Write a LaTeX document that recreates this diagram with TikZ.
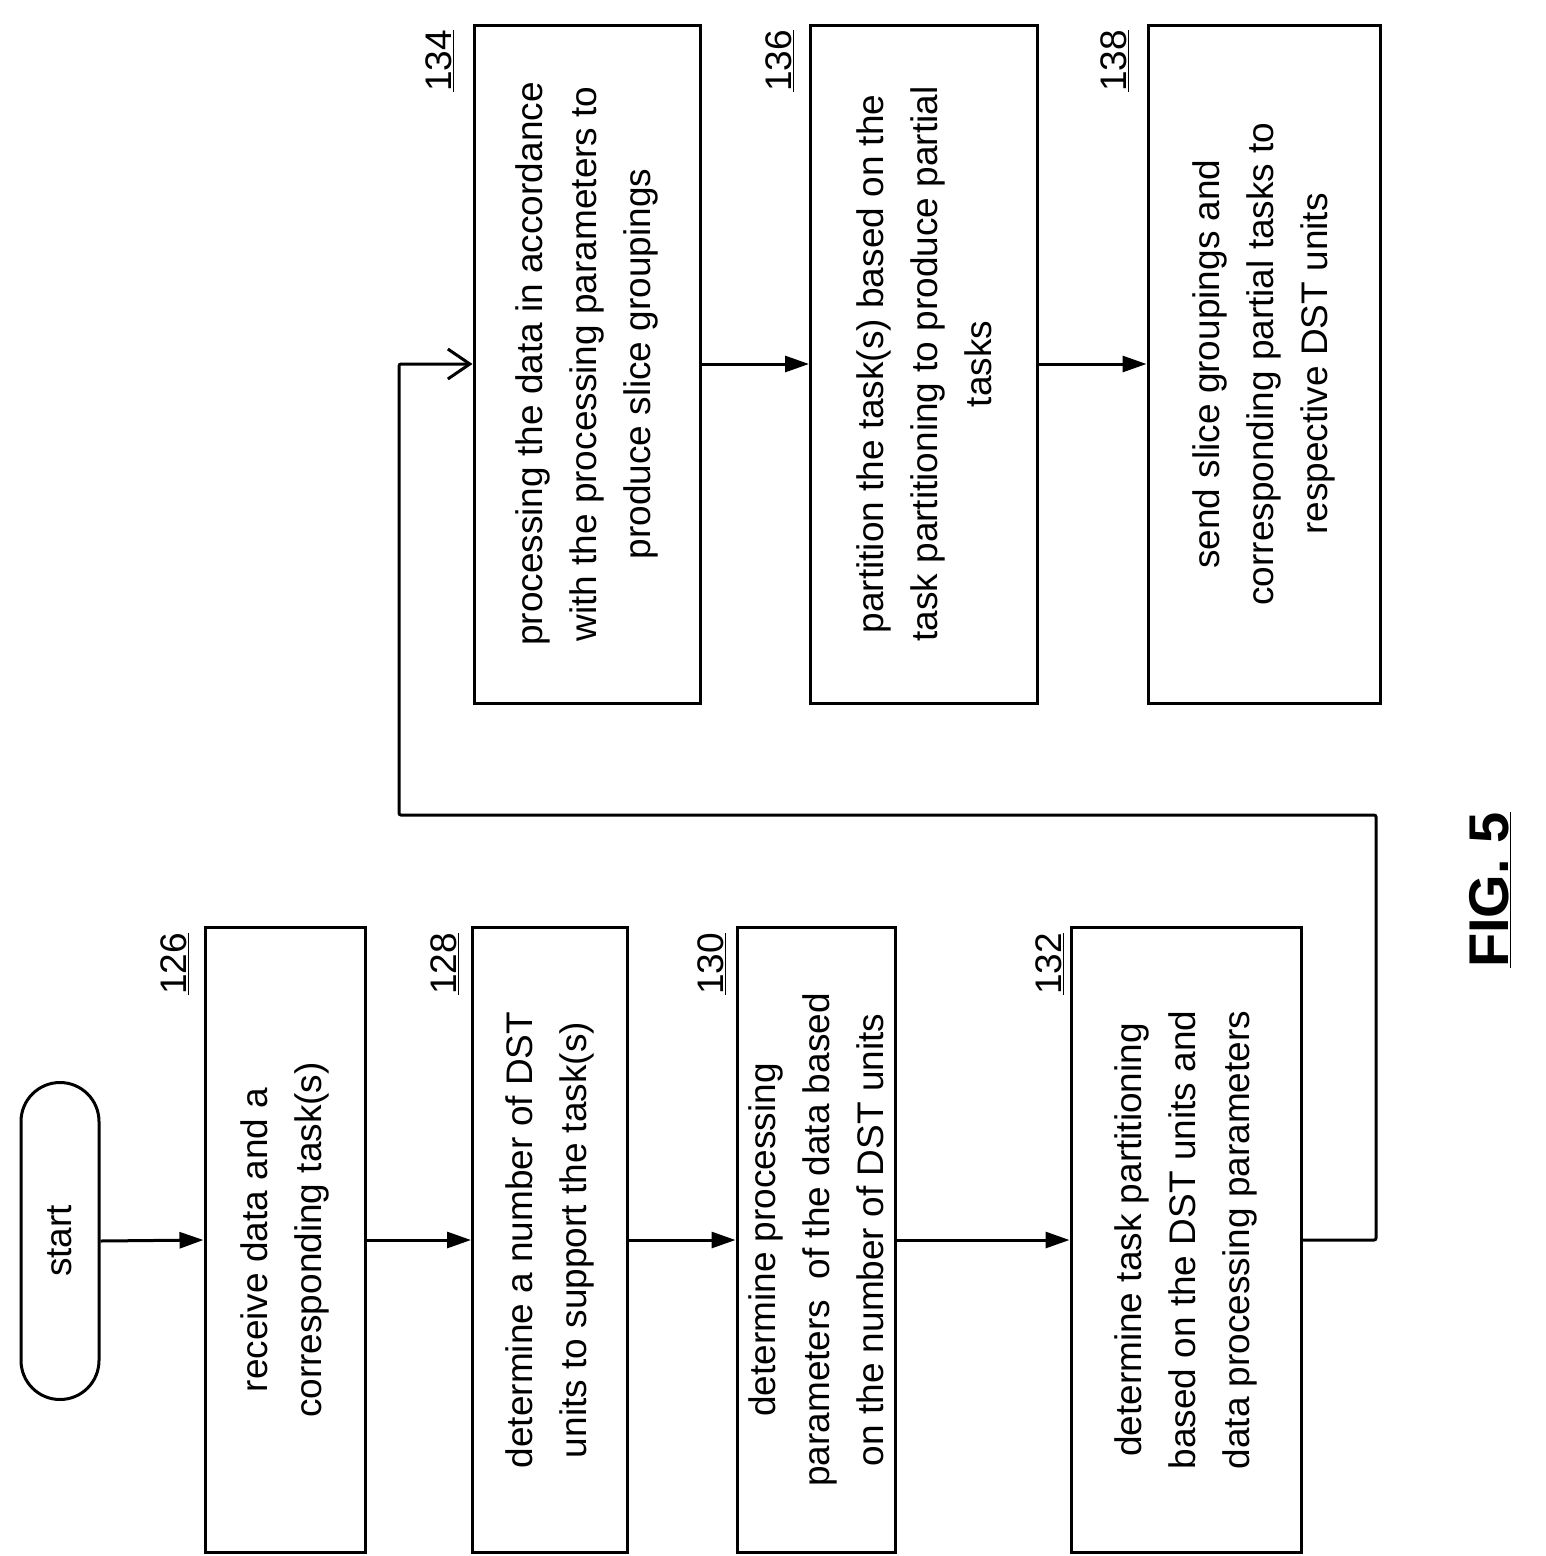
\documentclass[tikz,border=0pt]{standalone}
\usepackage{fontspec}
\setmainfont{Liberation Sans}
\usetikzlibrary{arrows.meta}
\begin{document}
\begin{tikzpicture}[x=1pt,y=-1pt,
  every node/.style={font=\fontsize{37}{54}\selectfont},
  box/.style={draw,line width=3pt,rotate=90,align=center,inner sep=0pt},
  lab/.style={rotate=90,anchor=east,inner sep=0pt},
  line/.style={line width=3pt},
  arr/.style={line width=3pt,-{Triangle[length=24pt,width=16pt]}},
  oarr/.style={line width=3pt,-{Straight Barb[length=22pt,width=30pt,line width=3pt]}}]
\useasboundingbox (0,0) rectangle (1546,1556);
\node[box,rounded corners=39pt,minimum width=317pt,minimum height=78pt] (start) at (60,1241) {start};
\node[box,minimum width=625pt,minimum height=160pt] (b126) at (285,1240) {receive data and a\\corresponding task(s)};
\node[box,minimum width=625pt,minimum height=155pt] (b128) at (550,1240) {determine a number of DST\\units to support the task(s)};
\node[box,minimum width=625pt,minimum height=158pt] (b130) at (816,1240) {determine processing\\parameters~ of the data based\\on the number of DST units};
\node[box,minimum width=625pt,minimum height=230pt] (b132) at (1186,1240) {determine task partitioning\\based on the DST units and\\data processing parameters};
\node[box,minimum width=678pt,minimum height=226pt] (b134) at (587,364) {processing the data in accordance\\with the processing parameters to\\produce slice groupings};
\node[box,minimum width=678pt,minimum height=227pt] (b136) at (924,364) {partition the task(s) based on the\\task partitioning to produce partial\\tasks};
\node[box,minimum width=678pt,minimum height=232pt] (b138) at (1264,364) {send slice groupings and\\corresponding partial tasks to\\respective DST units};
\node[lab] (l126) at (175,933) {\underline{126}};
\node[lab] (l128) at (445,933) {\underline{128}};
\node[lab] (l130) at (712,933) {\underline{130}};
\node[lab] (l132) at (1050,933) {\underline{132}};
\node[lab] (l134) at (440,30) {\underline{134}};
\node[lab] (l136) at (780,30) {\underline{136}};
\node[lab] (l138) at (1115,30) {\underline{138}};
\node[rotate=90,font=\fontsize{56}{60}\selectfont\bfseries] (fig) at (1490,890) {\underline{FIG. 5}};
\draw[arr] (start.south) -- (b126.north);
\draw[arr] (b126.south) -- (b128.north);
\draw[arr] (b128.south) -- (b130.north);
\draw[arr] (b130.south) -- (b132.north);
\coordinate (c1) at (1376,815);
\coordinate (c2) at (399,815);
\draw[oarr,rounded corners=2pt] (b132.south) -| (c1) -- (c2) |- (b134.north);
\draw[arr] (b134.south) -- (b136.north);
\draw[arr] (b136.south) -- (b138.north);
\end{tikzpicture}
\end{document}
